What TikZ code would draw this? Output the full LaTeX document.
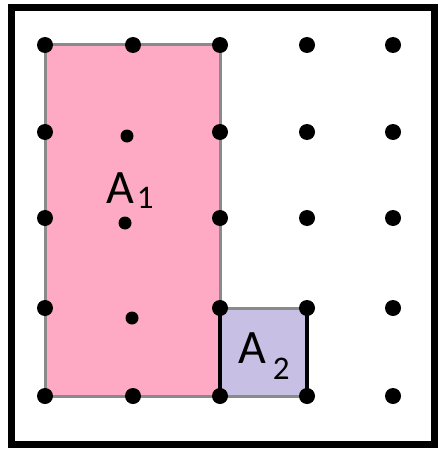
\documentclass[tikz,border=0pt]{standalone}
\usepackage{fontspec}
\setmainfont{Carlito}
\definecolor{pinkfill}{HTML}{FFAAC4}
\definecolor{purplefill}{HTML}{C8C0E4}
\definecolor{edgegray}{HTML}{8A8A8A}
\tikzset{
  bigdot/.style={circle,fill=black,inner sep=0pt,minimum size=16pt},
  smalldot/.style={circle,fill=black,inner sep=0pt,minimum size=13pt},
  graybox/.style={draw=edgegray,line width=3pt},
  lbl/.style={inner sep=0pt,anchor=base west}
}
\begin{document}
\begin{tikzpicture}[x=1pt,y=-1pt]
\useasboundingbox (0,0) rectangle (437,452);
\fill[white] (0,0) rectangle (437,452);
% regions
\fill[pinkfill] (45,45) rectangle (220,396);
\draw[graybox] (45,45) rectangle (220,396);
\fill[purplefill] (220,308) rectangle (307,396);
\draw[graybox] (220,308) -- (307,308);
\draw[graybox] (220,396) -- (307,396);
\draw[line width=3.5pt] (220,308) -- (220,396);
\draw[line width=3.5pt] (307,308) -- (307,396);
% outer frame
\draw[line width=7pt] (11,8) rectangle (434,444);
% grid dots
\foreach \i/\x in {1/45,3/220,4/307,5/393}{
  \foreach \j/\y in {1/45,2/132,3/218,4/308,5/396}{
    \node[bigdot] (g\i\j) at (\x,\y) {};
  }
}
\node[bigdot] (g21) at (133,45) {};
\node[bigdot] (g25) at (133,396) {};
% inner dots
\node[smalldot] (s1) at (127,136) {};
\node[smalldot] (s2) at (125,223) {};
\node[smalldot] (s3) at (132,318) {};
% labels
\node[lbl] (a1) at (106,203) {\fontsize{48}{48}\selectfont A\hspace{3pt}\raisebox{-5pt}{\fontsize{33}{33}\selectfont 1}};
\node[lbl] (a2) at (238,363) {\fontsize{48}{48}\selectfont A\hspace{7pt}\raisebox{-16pt}{\fontsize{33}{33}\selectfont 2}};
\end{tikzpicture}
\end{document}
